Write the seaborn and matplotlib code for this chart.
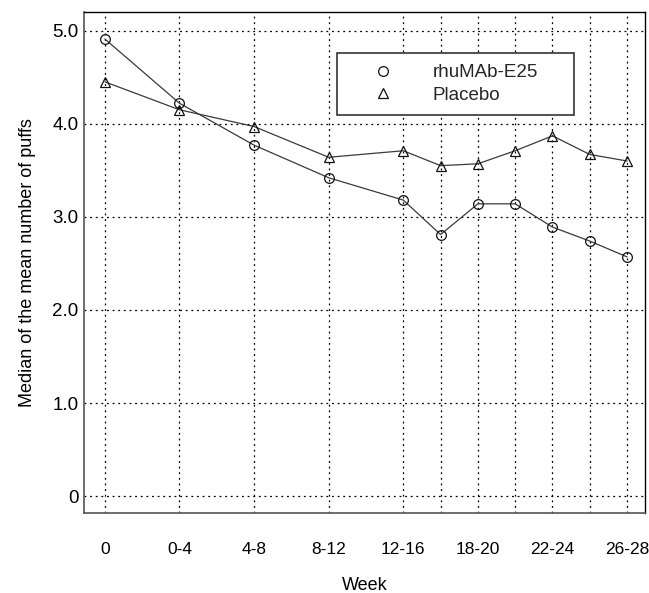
import matplotlib
matplotlib.use("Agg")
import matplotlib.pyplot as plt
from matplotlib.lines import Line2D
import seaborn as sns
import pandas as pd

# ---- data ----
week_labels = ["0", "0-4", "4-8", "8-12", "12-16", "16-18", "18-20",
               "20-22", "22-24", "24-26", "26-28"]
week_pos = [0, 2, 4, 6, 8, 9, 10, 11, 12, 13, 14]
shown_labels = ["0", "0-4", "4-8", "8-12", "12-16", "18-20", "22-24", "26-28"]
rhumab = [4.91, 4.22, 3.77, 3.42, 3.18, 2.81, 3.14, 3.14, 2.89, 2.74, 2.57]
placebo = [4.45, 4.15, 3.97, 3.64, 3.71, 3.55, 3.57, 3.71, 3.87, 3.67, 3.60]
y_ticks = [0, 1, 2, 3, 4, 5]
y_ticklabels = ["0", "1.0", "2.0", "3.0", "4.0", "5.0"]
groups = ["rhuMAb-E25", "Placebo"]

df = pd.concat([
    pd.DataFrame({"pos": week_pos, "value": rhumab, "group": groups[0]}),
    pd.DataFrame({"pos": week_pos, "value": placebo, "group": groups[1]}),
])

sns.set_theme(style="white")
plt.rcParams["font.family"] = ["Liberation Sans", "DejaVu Sans"]

fig = plt.figure(figsize=(6.49, 5.93), dpi=100)
ax = fig.add_axes([84 / 649, 1 - 513 / 593, (645 - 84) / 649, (513 - 12) / 593])

markers = {"rhuMAb-E25": "o", "Placebo": "^"}
for g in groups:
    sub = df[df["group"] == g]
    sns.lineplot(data=sub, x="pos", y="value", ax=ax, color="#3a3a3a",
                 linewidth=0.9, marker=markers[g], markersize=7,
                 markerfacecolor="none", markeredgecolor="#111111",
                 markeredgewidth=0.9, legend=False, zorder=3)

ax.set_xlim(-0.56, 14.48)
ax.set_ylim(-0.18, 5.2)
ax.set_xticks(week_pos)
ax.set_xticklabels([l if l in shown_labels else "" for l in week_labels],
                   fontsize=12.5, color="black")
ax.set_yticks(y_ticks)
ax.set_yticklabels(y_ticklabels, fontsize=13.5, color="black")
ax.tick_params(axis="x", length=0, pad=21)
ax.tick_params(axis="y", length=0, pad=4)

ax.grid(True, color="black", linestyle=(0, (1.5, 3)), linewidth=0.9)
ax.set_axisbelow(True)

for side in ["left", "bottom"]:
    ax.spines[side].set_color("#555555")
    ax.spines[side].set_linewidth(1.2)
for side in ["top", "right"]:
    ax.spines[side].set_color("black")
    ax.spines[side].set_linewidth(1.0)

ax.set_xlabel("Week", fontsize=13, color="black", labelpad=14)
ax.set_ylabel("Median of the mean number of puffs", fontsize=13,
              color="black", labelpad=12)

handles = [Line2D([], [], linestyle="none", marker=markers[g], markersize=7,
                  markerfacecolor="none", markeredgecolor="#111111",
                  markeredgewidth=0.9) for g in groups]
leg = ax.legend(handles, groups, loc="lower left",
                bbox_to_anchor=(0.451, 0.794, 0.422, 0.130), mode="expand",
                fontsize=13.5, frameon=True, fancybox=False, borderpad=0.6,
                handlelength=3.7, handletextpad=0.8, labelspacing=0.3,
                borderaxespad=0)
leg.get_frame().set_edgecolor("#333333")
leg.get_frame().set_linewidth(1.2)
leg.get_frame().set_facecolor("white")
leg.get_frame().set_alpha(1)

fig.savefig("out.png", dpi=100, facecolor="white")
